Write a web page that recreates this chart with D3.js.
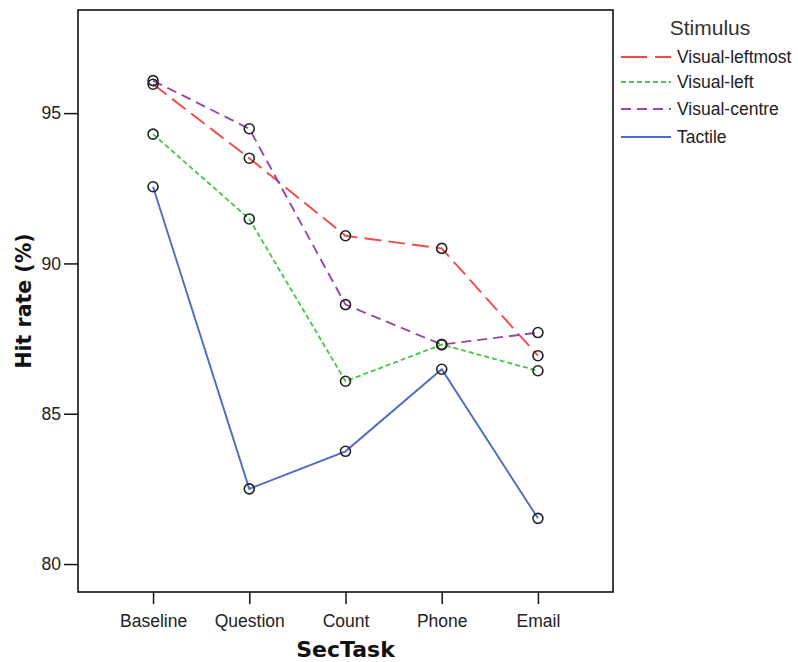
<!DOCTYPE html>
<html>
<head>
<meta charset="utf-8">
<script src="https://cdn.jsdelivr.net/npm/d3@7"></script>
<style>
  body { margin: 0; background: #fff; }
  svg { display: block; font-family: "Liberation Sans", Arial, sans-serif; }
</style>
</head>
<body>
<svg id="chart" width="798" height="662"></svg>
<script>
// Secondary tasks on the x axis
const tasks = ["Baseline", "Question", "Count", "Phone", "Email"];

// Hit rate (%) per stimulus condition
const visualLeftmost = [95.96, 93.50, 90.92, 90.50, 86.93];
const visualLeft     = [94.30, 91.48, 86.08, 87.30, 86.43];
const visualCentre   = [96.08, 94.48, 88.63, 87.30, 87.70];
const tactile        = [92.55, 82.50, 83.75, 86.48, 81.52];

const yTicks = [80, 85, 90, 95];

const series = [
  { name: "Visual-leftmost", values: visualLeftmost, color: "#f24a4a", dash: "17,7" },
  { name: "Visual-left",     values: visualLeft,     color: "#4cc64c", dash: "5,3" },
  { name: "Visual-centre",   values: visualCentre,   color: "#9447a8", dash: "10,6" },
  { name: "Tactile",         values: tactile,        color: "#4f6cc4", dash: null }
];

const svg = d3.select("#chart");
const plot = { left: 78, right: 613, top: 10, bottom: 592 };

const x = d3.scalePoint()
  .domain(tasks)
  .range([plot.left, plot.right])
  .padding(0.78);

const y = d3.scaleLinear()
  .domain([79.07, 98.43])
  .range([plot.bottom, plot.top]);

// Frame
svg.append("rect")
  .attr("x", plot.left).attr("y", plot.top)
  .attr("width", plot.right - plot.left)
  .attr("height", plot.bottom - plot.top)
  .attr("fill", "none").attr("stroke", "#111").attr("stroke-width", 1.6);

// Y axis
const yAxis = svg.append("g")
  .attr("transform", `translate(${plot.left},0)`)
  .call(d3.axisLeft(y).tickValues(yTicks).tickSize(14).tickPadding(3).tickFormat(d3.format("d")));
yAxis.select(".domain").remove();
yAxis.selectAll(".tick line").attr("stroke", "#111").attr("stroke-width", 1.5);
yAxis.selectAll(".tick text").attr("font-size", 17.5).attr("fill", "#222")
  .attr("font-family", "Liberation Sans, Arial, sans-serif");

// X axis
const xAxis = svg.append("g")
  .attr("transform", `translate(0,${plot.bottom})`)
  .call(d3.axisBottom(x).tickSize(12).tickPadding(11));
xAxis.select(".domain").remove();
xAxis.selectAll(".tick line").attr("stroke", "#111").attr("stroke-width", 1.5);
xAxis.selectAll(".tick text").attr("font-size", 17.5).attr("fill", "#222")
  .attr("font-family", "Liberation Sans, Arial, sans-serif");

// Axis titles
svg.append("text")
  .attr("x", (plot.left + plot.right) / 2).attr("y", 657)
  .attr("text-anchor", "middle")
  .attr("font-family", "DejaVu Sans, sans-serif")
  .attr("font-size", 22).attr("font-weight", "bold").attr("fill", "#111")
  .text("SecTask");

svg.append("text")
  .attr("transform", `translate(31,${(plot.top + plot.bottom) / 2}) rotate(-90)`)
  .attr("text-anchor", "middle")
  .attr("font-family", "DejaVu Sans, sans-serif")
  .attr("font-size", 20.5).attr("font-weight", "bold").attr("fill", "#111")
  .text("Hit rate (%)");

// Lines
const line = d3.line()
  .x((d, i) => x(tasks[i]))
  .y(d => y(d));

series.forEach(s => {
  svg.append("path")
    .datum(s.values)
    .attr("d", line)
    .attr("fill", "none")
    .attr("stroke", s.color)
    .attr("stroke-width", 1.9)
    .attr("stroke-dasharray", s.dash);
});

// Markers
series.forEach(s => {
  svg.append("g").selectAll("circle")
    .data(s.values)
    .join("circle")
    .attr("cx", (d, i) => x(tasks[i]))
    .attr("cy", d => y(d))
    .attr("r", 5)
    .attr("fill", "none")
    .attr("stroke", "#222")
    .attr("stroke-width", 1.6);
});

// Legend
const legend = svg.append("g");
legend.append("text")
  .attr("x", 710).attr("y", 35)
  .attr("text-anchor", "middle")
  .attr("font-size", 21).attr("fill", "#333")
  .text("Stimulus");

const legendY = [57, 82, 109, 137];
series.forEach((s, i) => {
  legend.append("line")
    .attr("x1", 621).attr("x2", 671)
    .attr("y1", legendY[i]).attr("y2", legendY[i])
    .attr("stroke", s.color).attr("stroke-width", 1.9)
    .attr("stroke-dasharray", i === 0 ? "26,8" : s.dash);
  legend.append("text")
    .attr("x", 677).attr("y", legendY[i] + 6)
    .attr("font-size", 17.5).attr("fill", "#222")
    .text(s.name);
});
</script>
</body>
</html>
